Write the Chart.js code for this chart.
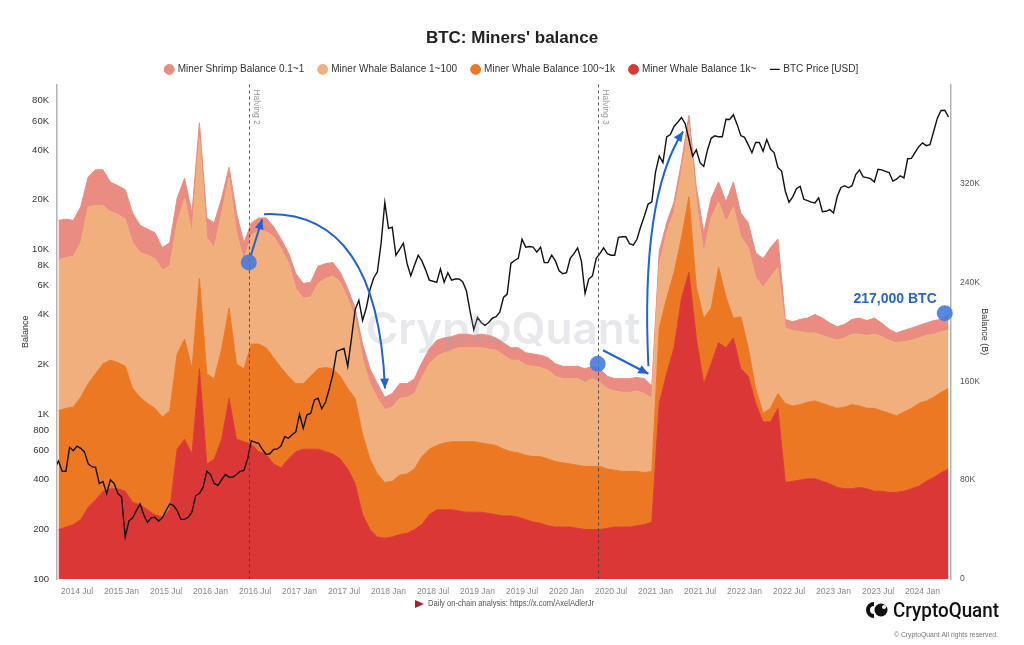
<!DOCTYPE html>
<html>
<head>
<meta charset="utf-8">
<title>BTC: Miners' balance</title>
<script src="https://cdn.jsdelivr.net/npm/chart.js@4.4.1/dist/chart.umd.min.js"></script>
<style>
  html, body { margin: 0; padding: 0; background: #fff; }
  #wrap { width: 1024px; height: 645px; position: relative; }
</style>
</head>
<body>
<div id="wrap"><canvas id="minersChart"></canvas></div>
<script>
// balances are monthly from April 2014, price is twice a month (1st, 15th) from 1 April 2014
var startYear = 2014, startMonth = 4;

// miner balances, thousand BTC (right axis, stacked)
var whale1k = [
  40, 42, 44, 48, 58, 64, 71, 73, 73, 71,
  62, 60, 56, 52, 50, 56, 105, 113, 101, 170,
  93, 97, 113, 146, 113, 111, 109, 103, 101, 93,
  90, 97, 103, 105, 105, 105, 103, 101, 97, 89,
  77, 52, 40, 34, 33, 34, 36, 37, 40, 44,
  52, 56, 56, 56, 55, 54, 54, 54, 53, 52,
  51, 51, 50, 48, 46, 45, 43, 42, 42, 42,
  41, 40, 40, 40, 41, 42, 42, 42, 43, 44,
  46, 142, 166, 187, 227, 248, 195, 158, 174, 191,
  187, 195, 170, 164, 142, 127, 127, 138, 78, 79,
  80, 81, 81, 79, 77, 74, 73, 73, 74, 73,
  71, 71, 70, 70, 71, 73, 75, 79, 82, 86, 89
];
var whale100 = [
  96, 96, 95, 99, 100, 102, 103, 104, 102, 101,
  92, 87, 86, 86, 81, 80, 77, 81, 69, 73,
  73, 65, 73, 73, 61, 59, 81, 87, 86, 86,
  81, 67, 55, 53, 59, 65, 68, 69, 67, 65,
  69, 65, 57, 51, 45, 45, 48, 48, 49, 55,
  53, 52, 54, 55, 56, 57, 57, 56, 56, 56,
  54, 52, 52, 52, 53, 54, 54, 53, 52, 51,
  51, 51, 51, 51, 48, 46, 45, 45, 44, 42,
  41, 61, 61, 61, 49, 61, 41, 53, 45, 61,
  41, 16, 42, 23, 12, 7, 11, 12, 64, 61,
  61, 62, 63, 63, 63, 64, 66, 68, 66, 65,
  67, 65, 64, 62, 64, 65, 67, 65, 65, 65, 65
];
var whale1 = [
  122, 122, 122, 125, 143, 136, 128, 120, 120, 119,
  118, 117, 120, 121, 119, 117, 106, 114, 110, 114,
  110, 106, 110, 106, 106, 88, 88, 92, 94, 98,
  96, 92, 77, 69, 64, 69, 72, 75, 76, 73,
  65, 61, 61, 61, 59, 60, 62, 62, 61, 64,
  69, 72, 73, 74, 76, 76, 76, 77, 77, 77,
  76, 74, 75, 73, 73, 72, 72, 69, 68, 69,
  70, 68, 71, 68, 65, 64, 64, 64, 65, 64,
  59, 51, 53, 49, 53, 59, 69, 53, 73, 53,
  61, 90, 65, 81, 90, 102, 106, 102, 61, 61,
  59, 56, 55, 55, 55, 55, 56, 57, 58, 59,
  60, 60, 59, 59, 57, 55, 53, 53, 51, 49, 47
];
var shrimp = [
  32, 31, 29, 29, 24, 29, 29, 24, 23, 24,
  24, 22, 21, 21, 18, 19, 20, 16, 16, 12,
  16, 20, 12, 8, 16, 14, 10, 10, 11, 8,
  8, 8, 12, 12, 12, 14, 12, 11, 8, 8,
  8, 12, 12, 12, 10, 11, 12, 11, 12, 12,
  12, 13, 12, 11, 11, 11, 10, 11, 11, 10,
  10, 10, 10, 10, 10, 10, 10, 10, 10, 10,
  10, 11, 10, 11, 10, 10, 11, 11, 11, 12,
  10, 11, 8, 8, 8, 7, 12, 16, 16, 16,
  16, 20, 19, 20, 20, 23, 24, 23, 7, 7,
  10, 12, 15, 14, 12, 11, 11, 12, 13, 12,
  13, 11, 9, 8, 9, 10, 10, 10, 11, 10, 13
];
// BTC price, USD (left axis, log), one row per year
var btcPrice = [
  470, 520, 450, 450, 630, 600, 640, 620, 590, 500, 480, 475, 380, 390, 330, 400, 380, 330,
  315, 180, 225, 235, 260, 285, 245, 220, 235, 237, 225, 235, 260, 285, 280, 260, 230, 230, 237, 255, 320, 330, 360, 450,
  430, 380, 370, 400, 430, 415, 415, 430, 450, 455, 535, 690, 675, 665, 610, 570, 575, 610, 615, 640, 730, 715, 750, 780,
  1000, 820, 990, 1010, 1220, 1250, 1080, 1180, 1420, 1750, 2400, 2450, 2500, 1950, 2870, 4300, 4900, 3700, 4400, 5700, 6700, 7300, 10900, 19200,
  13400, 13600, 9200, 10000, 10900, 8200, 6900, 8000, 9200, 8500, 7500, 6500, 6400, 6300, 7600, 6300, 7200, 6500, 6600, 6600, 6350, 5600, 4200, 3250,
  3850, 3600, 3450, 3600, 3820, 3900, 4150, 5100, 5350, 8200, 8550, 8800, 11500, 10300, 10400, 10300, 9600, 10300, 8300, 8300, 9200, 8500, 7400, 7100,
  7200, 8800, 9400, 10200, 8500, 5400, 6600, 6900, 8800, 9400, 10200, 9400, 9200, 9200, 11800, 11900, 11900, 10800, 10600, 11500, 13700, 15900, 18800, 19400,
  29400, 36800, 33500, 48000, 49600, 55600, 59000, 63000, 57800, 46500, 36700, 40100, 33500, 31800, 39900, 47100, 48800, 48100, 48100, 61500, 61300, 65500, 57200, 48900,
  47700, 43100, 38500, 44500, 44400, 39300, 46300, 40500, 38500, 31300, 29800, 22500, 19300, 20800, 23300, 24100, 20100, 19700, 19300, 19100, 20500, 16900, 17000, 17400,
  16600, 20900, 23700, 24300, 23600, 24300, 28400, 30300, 27500, 27200, 26800, 25600, 30600, 30300, 29700, 29200, 25900, 26600, 27900, 27100, 35400, 35600, 38700, 41900,
  44200, 42500, 43100, 51800, 62400, 69500, 69700, 63400
];

var xTickLabels = ['2014 Jul', '2015 Jan', '2015 Jul', '2016 Jan', '2016 Jul', '2017 Jan', '2017 Jul',
  '2018 Jan', '2018 Jul', '2019 Jan', '2019 Jul', '2020 Jan', '2020 Jul', '2021 Jan', '2021 Jul',
  '2022 Jan', '2022 Jul', '2023 Jan', '2023 Jul', '2024 Jan'];
var priceTicks = [100, 200, 400, 600, 800, 1000, 2000, 4000, 6000, 8000, 10000, 20000, 40000, 60000, 80000];
var balanceTicks = [0, 80, 160, 240, 320];

// decimal years
var halvings = [['Halving 2', 2016.43], ['Halving 3', 2020.35]];

var colRed = '#db3737', colOrange = '#ec7823', colPeach = '#f0af7d', colPink = '#eb8c82';
var blue = '#1f63d6';

Chart.defaults.font.family = "'Liberation Sans', Arial, Helvetica, sans-serif";
Chart.defaults.color = '#555';

function monthPoints(values) {
  return values.map(function (v, i) {
    return { x: startYear + (startMonth - 1 + i + 0.5) / 12, y: v };
  });
}

function halfMonthPoints(values) {
  return values.map(function (v, i) {
    return { x: startYear + (startMonth - 1 + i / 2) / 12, y: v };
  });
}

function tickValue(label) {
  var parts = label.split(' ');
  return +parts[0] + (parts[1] === 'Jul' ? 0.5 : 0);
}

function area(label, values, color, fill, order) {
  return {
    label: label,
    data: monthPoints(values),
    yAxisID: 'yBal',
    stack: 'bal',
    backgroundColor: color,
    borderColor: color,
    borderWidth: 1,
    pointRadius: 0,
    pointStyle: 'circle',
    fill: fill,
    order: order
  };
}

function arrowHead(ctx, x0, y0, x1, y1) {
  var a = Math.atan2(y1 - y0, x1 - x0);
  ctx.beginPath();
  ctx.moveTo(x1, y1);
  ctx.lineTo(x1 - 10 * Math.cos(a) + 4.5 * Math.sin(a), y1 - 10 * Math.sin(a) - 4.5 * Math.cos(a));
  ctx.lineTo(x1 - 10 * Math.cos(a) - 4.5 * Math.sin(a), y1 - 10 * Math.sin(a) + 4.5 * Math.cos(a));
  ctx.closePath();
  ctx.fill();
}

// blue callouts, in data units (year, thousand BTC)
var arrows = [
  { from: [2016.45, 261], to: [2016.58, 291] },
  { from: [2016.60, 295], via: [2017.88, 299], to: [2017.96, 154] },
  { from: [2020.41, 185], to: [2020.92, 166] },
  { from: [2020.92, 172], via: [2020.83, 309], to: [2021.31, 362] }
];
var markers = [[2016.43, 256], [2020.35, 174], [2024.25, 215]];

var overlays = {
  id: 'overlays',
  afterDatasetsDraw: function (chart) {
    var ctx = chart.ctx, area = chart.chartArea;
    var sx = chart.scales.x, sy = chart.scales.yBal;
    function P(p) { return [sx.getPixelForValue(p[0]), sy.getPixelForValue(p[1])]; }
    ctx.save();

    // halving lines
    halvings.forEach(function (h) {
      var x = Math.round(sx.getPixelForValue(h[1])) + 0.5;
      ctx.strokeStyle = 'rgba(60,60,60,0.85)';
      ctx.lineWidth = 1;
      ctx.setLineDash([3, 3]);
      ctx.beginPath();
      ctx.moveTo(x, area.top);
      ctx.lineTo(x, area.bottom);
      ctx.stroke();
      ctx.setLineDash([]);
      ctx.save();
      ctx.translate(x + 3, area.top + 5);
      ctx.rotate(Math.PI / 2);
      ctx.fillStyle = '#999';
      ctx.font = '8.5px "Liberation Sans", Arial';
      ctx.textAlign = 'left';
      ctx.textBaseline = 'bottom';
      ctx.fillText(h[0], 0, 0);
      ctx.restore();
    });

    // watermark
    ctx.fillStyle = 'rgba(160,165,178,0.25)';
    ctx.font = '600 44px Inter, "Liberation Sans", Arial';
    ctx.textAlign = 'center';
    ctx.textBaseline = 'middle';
    ctx.fillText('CryptoQuant', 503, 331);

    // arrows
    ctx.strokeStyle = blue;
    ctx.fillStyle = blue;
    ctx.lineWidth = 2;
    arrows.forEach(function (a) {
      var p0 = P(a.from), p1 = P(a.to);
      ctx.beginPath();
      ctx.moveTo(p0[0], p0[1]);
      if (a.via) {
        var c = P(a.via);
        ctx.quadraticCurveTo(c[0], c[1], p1[0], p1[1]);
        ctx.stroke();
        arrowHead(ctx, c[0], c[1], p1[0], p1[1]);
      } else {
        ctx.lineTo(p1[0], p1[1]);
        ctx.stroke();
        arrowHead(ctx, p0[0], p0[1], p1[0], p1[1]);
      }
    });

    // markers
    markers.forEach(function (m) {
      var p = P(m);
      ctx.beginPath();
      ctx.arc(p[0], p[1], 8, 0, Math.PI * 2);
      ctx.fillStyle = 'rgba(66,120,222,0.88)';
      ctx.fill();
    });

    var last = P(markers[2]);
    ctx.fillStyle = '#2566c8';
    ctx.font = 'bold 14px "Liberation Sans", Arial';
    ctx.textAlign = 'right';
    ctx.textBaseline = 'middle';
    ctx.fillText('217,000 BTC', last[0] - 8, last[1] - 14);
    ctx.restore();
  },
  afterDraw: function (chart) {
    var ctx = chart.ctx;
    ctx.save();
    // source line
    ctx.fillStyle = '#a3202e';
    ctx.beginPath();
    ctx.moveTo(415, 600);
    ctx.lineTo(424, 604);
    ctx.lineTo(415, 608);
    ctx.closePath();
    ctx.fill();
    ctx.fillStyle = '#555';
    ctx.font = '8.5px "Liberation Sans", Arial';
    ctx.textAlign = 'left';
    ctx.textBaseline = 'middle';
    ctx.fillText('Daily on-chain analysis: https://x.com/AxelAdlerJr', 428, 604, 166);

    // logo
    ctx.fillStyle = '#111';
    ctx.beginPath();
    ctx.arc(874, 610, 8, Math.PI * 0.5, Math.PI * 1.5);
    ctx.arc(874, 610, 4, Math.PI * 1.5, Math.PI * 0.5, true);
    ctx.closePath();
    ctx.fill();
    ctx.beginPath();
    ctx.arc(881, 610, 6.5, 0, Math.PI * 2);
    ctx.fill();
    ctx.fillStyle = '#fff';
    ctx.beginPath();
    ctx.arc(884, 607, 2, 0, Math.PI * 2);
    ctx.fill();
    ctx.fillStyle = '#111';
    ctx.font = '500 21px Roboto, "Liberation Sans", Arial';
    ctx.textBaseline = 'alphabetic';
    ctx.fillText('CryptoQuant', 893, 617, 106);
    ctx.fillStyle = '#777';
    ctx.font = '7px "Liberation Sans", Arial';
    ctx.textAlign = 'right';
    ctx.fillText('\u00a9 CryptoQuant All rights reserved.', 998, 637, 104);
    ctx.restore();
  }
};

var ctx = document.getElementById('minersChart').getContext('2d');
new Chart(ctx, {
  type: 'line',
  data: {
    datasets: [
      {
        label: 'BTC Price [USD]',
        data: halfMonthPoints(btcPrice),
        yAxisID: 'yPrice',
        borderColor: '#111',
        backgroundColor: '#111',
        borderWidth: 1.4,
        pointRadius: 0,
        pointStyle: 'line',
        fill: false,
        order: 0
      },
      area('Miner Whale Balance 1k~', whale1k, colRed, 'origin', 1),
      area('Miner Whale Balance 100~1k', whale100, colOrange, '-1', 2),
      area('Miner Whale Balance 1~100', whale1, colPeach, '-1', 3),
      area('Miner Shrimp Balance 0.1~1', shrimp, colPink, '-1', 4)
    ]
  },
  options: {
    responsive: true,
    maintainAspectRatio: false,
    animation: false,
    layout: { padding: 0 },
    plugins: {
      title: {
        display: true,
        text: "BTC: Miners' balance",
        color: '#222',
        font: { size: 17, weight: 'bold' },
        padding: { top: 28, bottom: 1 }
      },
      legend: {
        position: 'top',
        labels: {
          usePointStyle: true,
          boxWidth: 7,
          boxHeight: 7,
          padding: 15,
          color: '#333',
          font: { size: 10 },
          sort: function (a, b) { return b.datasetIndex - a.datasetIndex; }
        }
      },
      tooltip: { enabled: false }
    },
    scales: {
      x: {
        type: 'linear',
        min: 2014.275,
        max: 2024.32,
        grid: { display: false, drawTicks: false },
        border: { display: false },
        ticks: {
          color: '#888',
          font: { size: 8.5 },
          padding: 8,
          autoSkip: false,
          maxRotation: 0,
          callback: function (v, i) { return xTickLabels[i]; }
        },
        afterBuildTicks: function (axis) {
          axis.ticks = xTickLabels.map(function (l) { return { value: tickValue(l) }; });
        },
        afterFit: function (axis) { axis.height = 66; }
      },
      yPrice: {
        type: 'logarithmic',
        position: 'left',
        min: 100,
        max: 100000,
        grid: { display: false, drawTicks: false },
        border: { display: true, color: '#b3b3b3', width: 1.5 },
        ticks: {
          color: '#333',
          font: { size: 9.5 },
          padding: 8,
          autoSkip: false,
          callback: function (v) { return v >= 1000 ? (v / 1000) + 'K' : String(v); }
        },
        afterBuildTicks: function (axis) {
          axis.ticks = priceTicks.map(function (v) { return { value: v }; });
        },
        title: { display: true, text: 'Balance', color: '#333', font: { size: 9 }, padding: { top: 20, bottom: 0 } },
        afterFit: function (axis) { axis.width = 57; }
      },
      yBal: {
        type: 'linear',
        position: 'right',
        stacked: true,
        min: 0,
        max: 400,
        grid: { display: false, drawTicks: false },
        border: { display: true, color: '#b3b3b3', width: 1.5 },
        ticks: {
          color: '#555',
          font: { size: 8.5 },
          padding: 9,
          callback: function (v) { return v === 0 ? '0' : v + 'K'; }
        },
        afterBuildTicks: function (axis) {
          axis.ticks = balanceTicks.map(function (v) { return { value: v }; });
        },
        title: { display: true, text: 'Balance (B)', color: '#333', font: { size: 9 }, padding: { top: 34, bottom: 0 } },
        afterFit: function (axis) { axis.width = 73; }
      }
    }
  },
  plugins: [overlays]
});
</script>
</body>
</html>
